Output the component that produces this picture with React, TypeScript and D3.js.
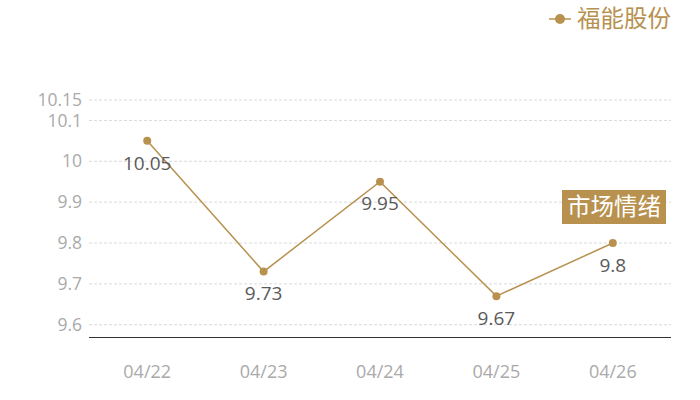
import * as d3 from "d3";
import { useEffect, useRef } from "react";

const dates = ["04/22", "04/23", "04/24", "04/25", "04/26"];
const prices = [10.05, 9.73, 9.95, 9.67, 9.8];
const yTicks = [9.6, 9.7, 9.8, 9.9, 10, 10.1, 10.15];
const seriesName = "福能股份";
const badgeText = "市场情绪";

const gold = "#b8914f";
const font = "'Open Sans', 'Noto Sans CJK SC', sans-serif";
const cjk = "'Noto Sans CJK SC', sans-serif";

export default function App() {
  const svgRef = useRef<SVGSVGElement | null>(null);

  useEffect(() => {
    if (!svgRef.current) return;
    const svg = d3.select(svgRef.current);
    svg.selectAll("*").remove();

    const width = 700;
    const height = 400;
    const left = 89;
    const right = 671;
    const top = 100;
    const bottom = 337;

    const x = d3.scaleBand().domain(dates).range([left, right]);
    const y = d3.scaleLinear().domain([9.57, 10.15]).range([bottom, top]);
    const cx = (d: string) => x(d)! + x.bandwidth() / 2;

    // grid
    svg.append("g")
      .selectAll("line")
      .data(yTicks)
      .enter()
      .append("line")
      .attr("x1", left)
      .attr("x2", right)
      .attr("y1", d => y(d))
      .attr("y2", d => y(d))
      .attr("stroke", "#dadada")
      .attr("stroke-dasharray", "3,2");

    // y labels
    svg.append("g")
      .selectAll("text")
      .data(yTicks)
      .enter()
      .append("text")
      .attr("x", left - 7)
      .attr("y", d => y(d))
      .attr("dy", "0.35em")
      .attr("text-anchor", "end")
      .attr("font-family", font)
      .attr("font-size", 17.5)
      .attr("fill", "#aaaaaa")
      .text(d => String(d));

    // x axis line
    svg.append("line")
      .attr("x1", left)
      .attr("x2", right)
      .attr("y1", bottom + 0.5)
      .attr("y2", bottom + 0.5)
      .attr("stroke", "#333");

    svg.append("g")
      .selectAll("text")
      .data(dates)
      .enter()
      .append("text")
      .attr("x", d => cx(d))
      .attr("y", 372)
      .attr("dy", "0.35em")
      .attr("text-anchor", "middle")
      .attr("font-family", font)
      .attr("font-size", 18)
      .attr("fill", "#aaaaaa")
      .text(d => d);

    // line
    const line = d3.line<number>()
      .x((_, i) => cx(dates[i]))
      .y(d => y(d));

    svg.append("path")
      .datum(prices)
      .attr("d", line)
      .attr("fill", "none")
      .attr("stroke", gold)
      .attr("stroke-width", 1.5);

    svg.append("g")
      .selectAll("circle")
      .data(prices)
      .enter()
      .append("circle")
      .attr("cx", (_, i) => cx(dates[i]))
      .attr("cy", d => y(d))
      .attr("r", 4)
      .attr("fill", gold);

    svg.append("g")
      .selectAll("text")
      .data(prices)
      .enter()
      .append("text")
      .attr("x", (_, i) => cx(dates[i]))
      .attr("y", d => y(d) + 22)
      .attr("dy", "0.35em")
      .attr("text-anchor", "middle")
      .attr("font-family", font)
      .attr("font-size", 19)
      .attr("fill", "#5a5a5a")
      .text(d => String(d));

    // legend
    const lg = svg.append("g").attr("transform", "translate(549,19)");
    lg.append("line").attr("x1", 0).attr("x2", 22).attr("stroke", gold).attr("stroke-width", 1.5);
    lg.append("circle").attr("cx", 11).attr("r", 5).attr("fill", gold);
    lg.append("text")
      .attr("x", 28)
      .attr("dy", "0.35em")
      .attr("font-family", cjk)
      .attr("font-size", 23.5)
      .attr("fill", gold)
      .text(seriesName);

    // badge
    const bg = svg.append("g").attr("transform", "translate(562,190)");
    bg.append("rect").attr("width", 104).attr("height", 34).attr("fill", gold);
    bg.append("text")
      .attr("x", 52)
      .attr("y", 17)
      .attr("dy", "0.35em")
      .attr("text-anchor", "middle")
      .attr("font-family", cjk)
      .attr("font-size", 23.5)
      .attr("fill", "#fff")
      .text(badgeText);

    svg.attr("width", width).attr("height", height);
  }, []);

  return (
    <div style={{ position: "absolute", left: 0, top: 0 }}>
      <svg ref={svgRef} style={{ display: "block" }}></svg>
    </div>
  );
}
